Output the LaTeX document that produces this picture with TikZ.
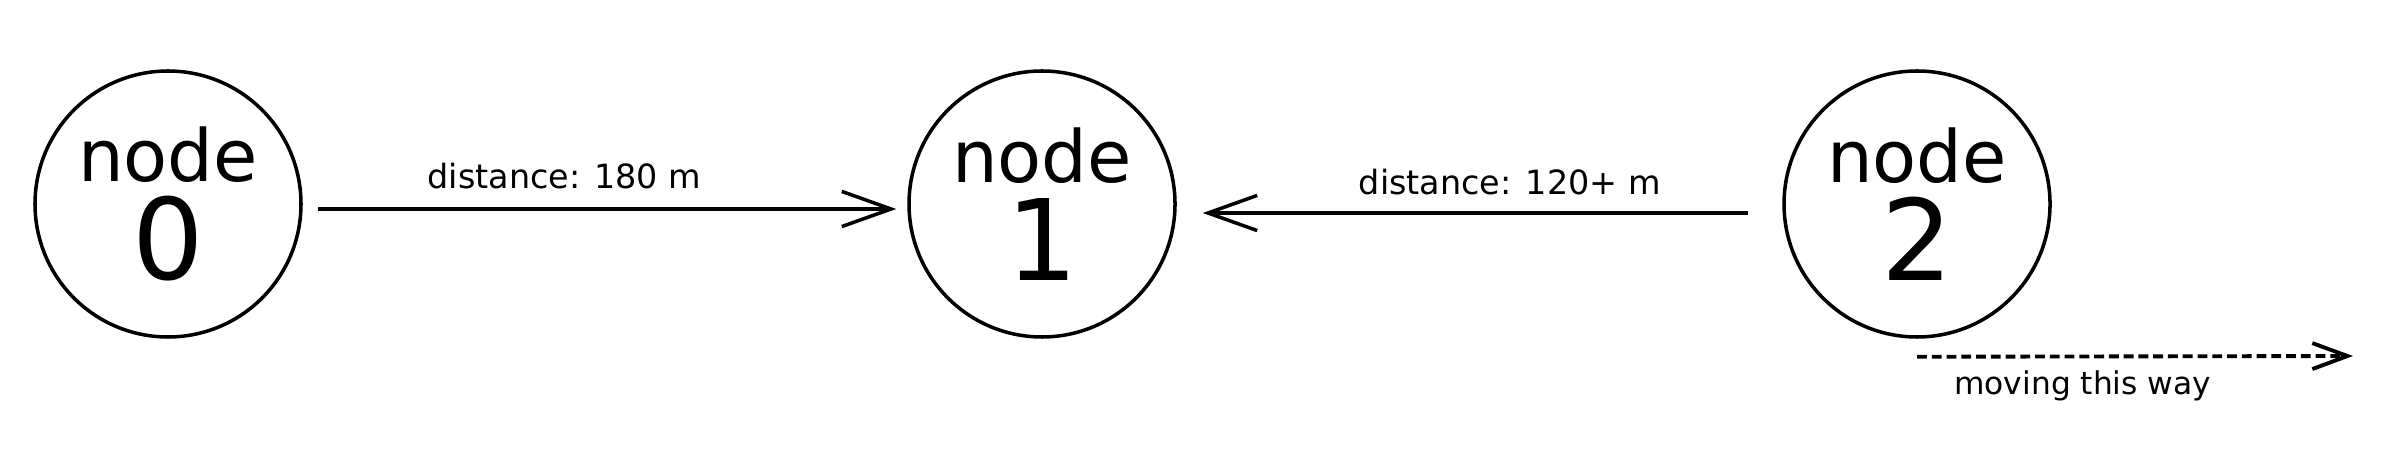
\documentclass[tikz,border=0pt]{standalone}
\usepackage{fontspec}
\setmainfont{DejaVu Sans}
\usetikzlibrary{arrows.meta}

\begin{document}
\begin{tikzpicture}[
  station/.style={circle, draw, line width=1pt, minimum size=2.66cm, inner sep=0pt,
    align=center, font=\fontsize{32}{28}\selectfont},
  link/.style={line width=1pt, -{Straight Barb[length=14pt,width=10pt]}},
  dist/.style={font=\fontsize{9.5}{11}\selectfont}]
\useasboundingbox (0,0) rectangle (24,4.62);
\node[station] (n0) at (1.68,2.58) {{\fontsize{20.5}{28}\selectfont node}\\0};
\node[station] (n1) at (10.42,2.58) {{\fontsize{20.5}{28}\selectfont node}\\1};
\node[station] (n2) at (19.17,2.58) {{\fontsize{20.5}{28}\selectfont node}\\2};
\coordinate (mv) at (23.53,1.06);
\draw[link, shorten <=0.15cm, shorten >=0.11cm] ([yshift=-0.05cm]n0.east) --
  node[dist, pos=0.433, yshift=0.33cm] {distance: 180 m} ([yshift=-0.05cm]n1.west);
\draw[link, shorten <=0.34cm, shorten >=0.26cm] ([yshift=-0.09cm]n2.west) --
  node[dist, pos=0.45, yshift=0.31cm] {distance: 120+ m} ([yshift=-0.09cm]n1.east);
% direction of travel
\draw[line width=1.1pt, dash pattern=on 2.8pt off 1.4pt, -{Straight Barb[length=10pt,width=7.4pt]}]
  ([yshift=-0.18cm]n2.south) -- node[dist, font=\fontsize{8.9}{11}\selectfont, pos=0.38, yshift=-0.29cm] {moving this way} (mv);
\end{tikzpicture}
\end{document}
